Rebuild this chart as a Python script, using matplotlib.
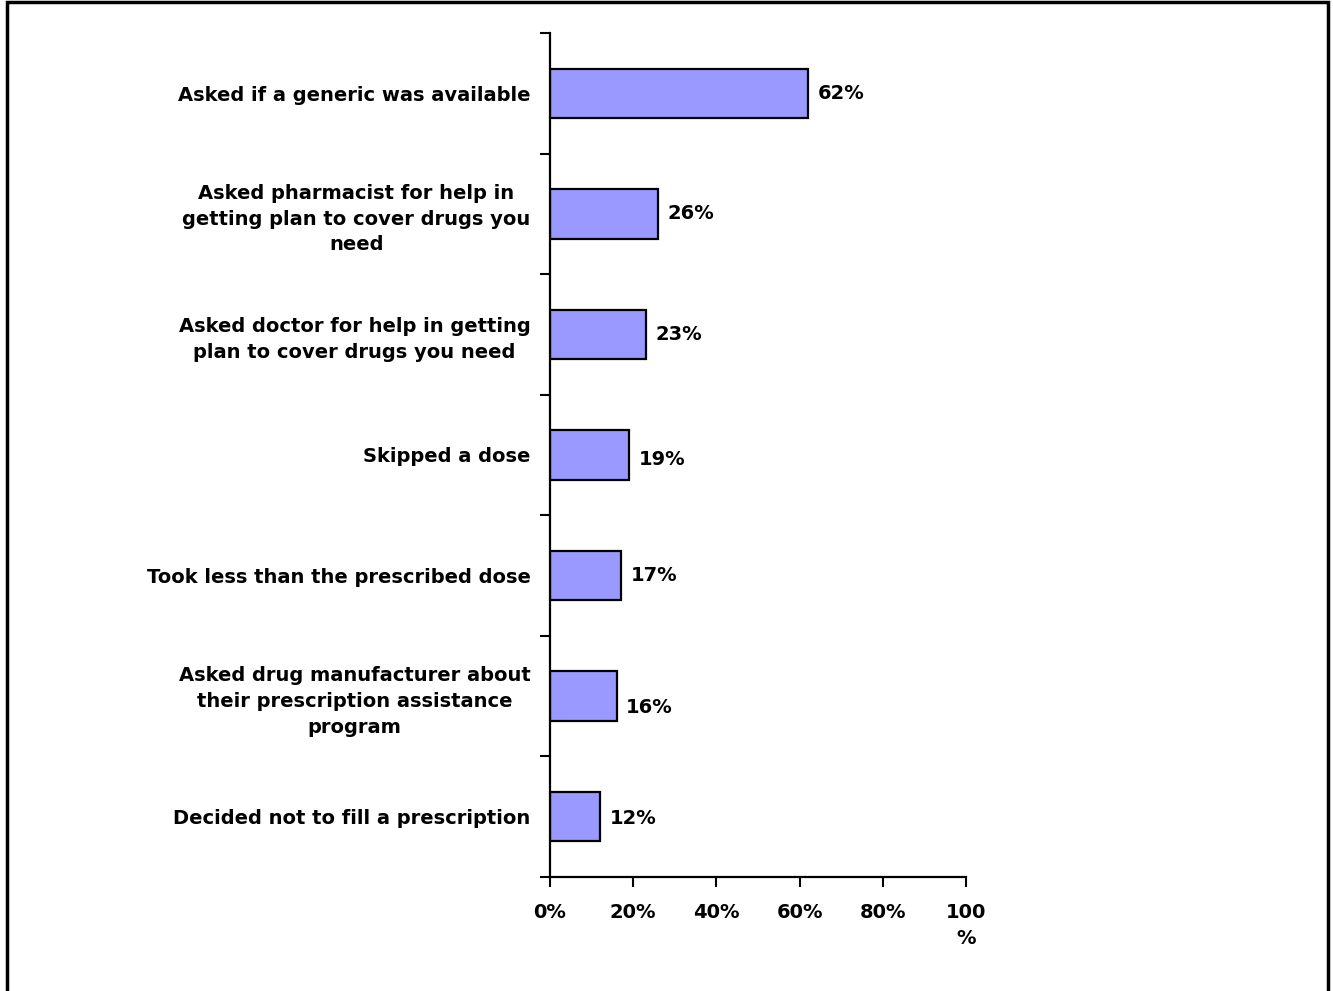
import matplotlib.pyplot as plt
from matplotlib.patches import Rectangle

categories = [
    "Asked if a generic was available",
    "Asked pharmacist for help in\ngetting plan to cover drugs you\nneed",
    "Asked doctor for help in getting\nplan to cover drugs you need",
    "Skipped a dose",
    "Took less than the prescribed dose",
    "Asked drug manufacturer about\ntheir prescription assistance\nprogram",
    "Decided not to fill a prescription",
]
values = [62, 26, 23, 19, 17, 16, 12]
xticks = [0, 20, 40, 60, 80, 100]
xticklabels = ["0%", "20%", "40%", "60%", "80%", "100\n%"]

# the value labels in the original sit a little off centre on some bars
label_dy = [0, 0, 0, -3.5, 0, -8.5, -1.5]

plt.rcParams['font.family'] = ['DejaVu Sans']

fig = plt.figure(figsize=(13.33, 9.91), dpi=100)
ax = fig.add_axes([550/1333, 1-877/991, 416/1333, 844/991])

pos = list(range(len(categories)))
ax.barh(pos, values, height=0.41, color='#9999FF', edgecolor='black', linewidth=1.6)

for p, v, dy in zip(pos, values, label_dy):
    ax.annotate("%d%%" % v, (v, p), xytext=(7, dy), textcoords='offset points',
                va='center', ha='left', fontsize=14, fontweight='bold')

ax.set_ylim(len(categories)-0.5, -0.5)
ax.set_xlim(0, 100)
ax.set_yticks([i-0.5 for i in range(len(categories)+1)], minor=False)
ax.set_yticklabels([])
ax.set_yticks(pos, minor=True)
ax.set_yticklabels(categories, minor=True, fontsize=14, fontweight='bold',
                   multialignment='center', linespacing=1.45)
ax.tick_params(axis='y', which='minor', length=0, pad=14)
ax.tick_params(axis='y', which='major', length=7, width=1.5, direction='out')
ax.set_xticks(xticks)
ax.set_xticklabels(xticklabels, fontsize=14, fontweight='bold', va='top',
                   linespacing=1.45)
ax.tick_params(axis='x', length=7, width=1.5, direction='out', pad=12)

for s in ['top', 'right']:
    ax.spines[s].set_visible(False)
for s in ['left', 'bottom']:
    ax.spines[s].set_linewidth(1.6)

# border around the picture
fig.patches.append(Rectangle((7/1333, -0.05), 1321/1333, 1-2/991+0.05,
                             transform=fig.transFigure, fill=False,
                             edgecolor='black', linewidth=2.5))

plt.savefig("out.png", dpi=100)
